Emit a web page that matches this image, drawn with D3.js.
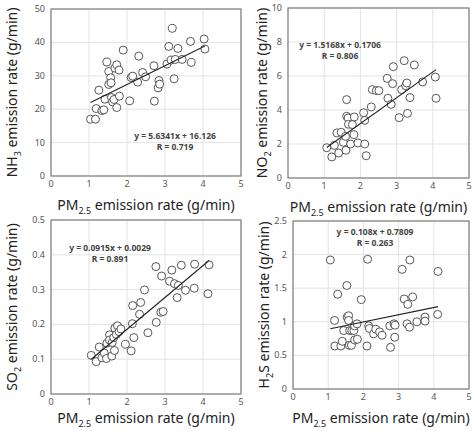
<!DOCTYPE html>
<html><head><meta charset="utf-8">
<script src="https://cdn.jsdelivr.net/npm/d3@7.9.0/dist/d3.min.js"></script>
<style>body{margin:0;background:#fff}</style>
</head><body><svg id="c" width="474" height="431"></svg>
<script>
// PM2.5 vs NH3
const nh3X = [1.04,1.17,1.19,1.26,1.34,1.39,1.42,1.47,1.52,1.52,1.57,1.58,1.59,1.62,1.66,1.68,1.73,1.73,1.79,1.80,1.90,2.07,2.11,2.15,2.28,2.31,2.41,2.49,2.71,2.72,2.82,2.84,2.86,3.05,3.10,3.16,3.19,3.24,3.27,3.34,3.45,3.67,3.69,4.03,4.05];
const nh3Y = [17,17,20.2,25.7,19.6,19.8,23,34.1,31.3,27.4,29.4,27.9,23.5,22.2,22.9,32.3,33.3,20.5,31.7,23.9,37.7,22.5,29.5,29.9,28.1,35.9,31,29.7,33,22.4,26.4,28.6,27.5,33.5,38.8,34.7,44.2,29.1,34.9,38.2,34.9,40.3,34,41,38];
// PM2.5 vs NO2
const no2X = [1.07,1.21,1.28,1.35,1.40,1.47,1.53,1.59,1.60,1.62,1.62,1.66,1.67,1.73,1.78,1.82,1.83,1.93,2.09,2.12,2.12,2.16,2.30,2.33,2.44,2.51,2.74,2.76,2.85,2.89,2.91,3.07,3.14,3.21,3.25,3.28,3.30,3.37,3.49,3.72,4.07,4.09];
const no2Y = [1.78,1.24,1.92,2.65,1.47,2.69,2.10,2.45,1.63,4.61,3.63,3.53,3.16,2.0,3.14,2.55,3.59,2.06,3.84,3.39,2.0,1.31,4.18,5.2,5.14,5.14,5.86,4.69,4.33,5.55,6.55,3.55,5.2,6.9,5.43,5.59,3.8,4.73,6.65,5.65,5.94,4.69];
// PM2.5 vs SO2
const so2X = [1.06,1.19,1.27,1.34,1.40,1.46,1.47,1.54,1.54,1.60,1.61,1.65,1.67,1.68,1.72,1.75,1.79,1.84,1.96,2.11,2.14,2.15,2.18,2.33,2.36,2.46,2.55,2.77,2.76,2.89,2.91,2.95,3.12,3.18,3.25,3.32,3.35,3.43,3.54,3.77,3.78,4.13,4.16];
const so2Y = [0.111,0.093,0.135,0.104,0.118,0.102,0.146,0.170,0.155,0.109,0.148,0.162,0.125,0.189,0.171,0.196,0.179,0.187,0.143,0.124,0.202,0.254,0.162,0.229,0.263,0.299,0.176,0.206,0.366,0.235,0.339,0.237,0.324,0.356,0.317,0.277,0.312,0.370,0.298,0.304,0.373,0.288,0.371];
// PM2.5 vs H2S
const h2sX = [1.06,1.18,1.19,1.27,1.36,1.40,1.44,1.53,1.54,1.58,1.58,1.60,1.61,1.66,1.67,1.73,1.75,1.75,1.82,1.83,1.94,2.10,2.12,2.15,2.17,2.29,2.35,2.46,2.53,2.75,2.77,2.87,2.89,2.90,3.10,3.16,3.24,3.26,3.31,3.32,3.40,3.52,3.75,3.75,4.11,4.12];
const h2sY = [1.92,1.02,0.64,1.41,0.64,0.71,0.87,1.54,1.07,1.09,1.02,0.65,0.87,0.65,0.87,0.87,0.73,0.94,0.97,0.74,1.33,0.64,1.93,0.94,0.90,0.82,0.89,0.85,0.80,0.94,0.62,0.97,0.77,0.95,1.78,1.34,0.97,1.26,0.92,1.92,1.37,1.0,1.07,1.01,1.11,1.75];

const xTicks = [0,1,2,3,4,5];

const panels = [
  {xs:nh3X, ys:nh3Y, slope:5.6341, icpt:16.126, eq:["y = 5.6341x + 16.126","R = 0.719"], eqX:175, eqY:139,
   yMax:50, yTicks:[0,10,20,30,40,50], fmt:d=>d, gas:["NH","3",""], box:[51,241,9,176], titleX:12, xTitleY:210},
  {xs:no2X, ys:no2Y, slope:1.5168, icpt:0.1706, eq:["y = 1.5168x + 0.1706","R = 0.806"], eqX:340, eqY:48,
   yMax:10, yTicks:[0,2,4,6,8,10], fmt:d=>d, gas:["NO","2",""], box:[288,469,8,178], titleX:262, xTitleY:212},
  {xs:so2X, ys:so2Y, slope:0.0915, icpt:0.0029, eq:["y = 0.0915x + 0.0029","R = 0.891"], eqX:110, eqY:251,
   yMax:0.5, yTicks:[0,0.1,0.2,0.3,0.4,0.5], fmt:d=>d, gas:["SO","2",""], box:[51,241,220,394], titleX:12, xTitleY:423},
  {xs:h2sX, ys:h2sY, slope:0.108, icpt:0.7809, eq:["y = 0.108x + 0.7809","R = 0.263"], eqX:375, eqY:235,
   yMax:2.5, yTicks:[0,0.5,1,1.5,2,2.5], fmt:d=>d, gas:["H","2","S"], box:[293,469,221,389], titleX:264, xTitleY:423}
];

const svg = d3.select('#c');
const font = "'Noto Sans', 'DejaVu Sans', sans-serif";

panels.forEach(p => {
  const [l, r, t, b] = p.box;
  const x = d3.scaleLinear().domain([0, 5]).range([l, r]);
  const y = d3.scaleLinear().domain([0, p.yMax]).range([b, t]);
  const g = svg.append('g');

  // grid
  g.selectAll('.vg').data(xTicks).enter().append('line')
    .attr('x1', d => x(d)).attr('x2', d => x(d)).attr('y1', t).attr('y2', b)
    .attr('stroke', '#e3e3e3');
  g.selectAll('.hg').data(p.yTicks).enter().append('line')
    .attr('x1', l).attr('x2', r).attr('y1', d => y(d)).attr('y2', d => y(d))
    .attr('stroke', '#e3e3e3');
  g.append('rect').attr('x', l).attr('y', t).attr('width', r - l).attr('height', b - t)
    .attr('fill', 'none').attr('stroke', '#7f7f7f').attr('stroke-width', 1.2);

  // tick labels
  g.selectAll('.xt').data(xTicks).enter().append('text')
    .attr('x', d => x(d)).attr('y', b + 11).attr('text-anchor', 'middle')
    .attr('font-family', font).attr('font-size', 9).attr('fill', '#555').text(d => d);
  g.selectAll('.yt').data(p.yTicks).enter().append('text')
    .attr('x', l - 6).attr('y', d => y(d) + 3).attr('text-anchor', 'end')
    .attr('font-family', font).attr('font-size', 9).attr('fill', '#555').text(p.fmt);

  // points
  g.selectAll('circle').data(p.xs).enter().append('circle')
    .attr('cx', d => x(d)).attr('cy', (d, i) => y(p.ys[i])).attr('r', 4)
    .attr('fill', 'white').attr('stroke', '#444').attr('stroke-width', 0.9);

  // trendline
  const x0 = d3.min(p.xs), x1 = d3.max(p.xs);
  g.append('line')
    .attr('x1', x(x0)).attr('y1', y(p.slope * x0 + p.icpt))
    .attr('x2', x(x1)).attr('y2', y(p.slope * x1 + p.icpt))
    .attr('stroke', '#222').attr('stroke-width', 1.1);

  // equation
  p.eq.forEach((s, i) => g.append('text')
    .attr('x', p.eqX).attr('y', p.eqY + i * 11).attr('text-anchor', 'middle')
    .attr('font-family', font).attr('font-size', 8.5).attr('font-weight', 'bold')
    .attr('fill', '#444').text(s));

  // x title
  const xt = g.append('text').attr('x', (l + r) / 2).attr('y', p.xTitleY)
    .attr('text-anchor', 'middle').attr('font-family', font).attr('font-size', 14).attr('fill', '#222');
  xt.append('tspan').text('PM');
  xt.append('tspan').attr('font-size', 9).attr('dy', 4).text('2.5');
  xt.append('tspan').attr('dy', -4).text(' emission rate (g/min)');

  // y title
  const yt = g.append('text')
    .attr('transform', `translate(${p.titleX + 5},${(t + b) / 2}) rotate(-90)`)
    .attr('text-anchor', 'middle').attr('font-family', font).attr('font-size', 14).attr('fill', '#222');
  yt.append('tspan').text(p.gas[0]);
  yt.append('tspan').attr('font-size', 9).attr('dy', 4).text(p.gas[1]);
  yt.append('tspan').attr('dy', -4).text(p.gas[2] + ' emission rate (g/min)');
});
</script></body></html>
